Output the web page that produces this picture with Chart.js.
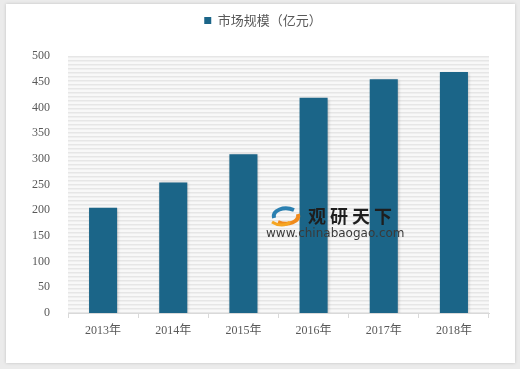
<!DOCTYPE html>
<html>
<head>
<meta charset="utf-8">
<script src="https://cdn.jsdelivr.net/npm/chart.js@4"></script>
<style>
  html, body { margin: 0; padding: 0; background: #ebebeb; }
  #wrap { position: relative; width: 520px; height: 369px; }
  #card { position: absolute; left: 6px; top: 4px; width: 509px; height: 359px; background: #fff;
          box-shadow: 0 0 3px rgba(0,0,0,0.18); }
  #graficoBarras { position: absolute; left: 0; top: 0; }
  #marca { position: absolute; left: 266px; top: 204px; width: 145px; height: 36px; pointer-events: none; }
  #marca .nombre { position: absolute; left: 42px; top: 2px; font: bold 18px 'Noto Sans CJK SC', sans-serif;
                   color: #1e1e1e; letter-spacing: 4px; line-height: 18px; }
  #marca .web { position: absolute; left: 0; top: 23px; font: 12px 'DejaVu Sans', sans-serif; color: #3a3a3a;
                line-height: 13px; }
  #marca svg { position: absolute; left: 2px; top: 0; }
</style>
</head>
<body>
<div id="wrap">
  <div id="card"></div>
  <canvas id="graficoBarras" width="520" height="369"></canvas>
  <div id="marca">
    <svg width="36" height="24" viewBox="0 0 36 24">
      <path d="M6 14 C4 6, 16 2, 26 6" stroke="#2a7fb0" stroke-width="4" fill="none"/>
      <path d="M30 10 C32 18, 20 22, 10 18" stroke="#f08a1c" stroke-width="4" fill="none"/>
      <path d="M4 18 C10 22, 18 22, 22 18" stroke="#f5a623" stroke-width="3" fill="none"/>
    </svg>
    <div class="nombre">观研天下</div>
    <div class="web">www.chinabaogao.com</div>
  </div>
</div>
<script>
var anios = ['2013年', '2014年', '2015年', '2016年', '2017年', '2018年'];
var mercado = [205, 254, 309, 419, 455, 469];
var etiquetaSerie = '市场规模（亿元）';

var colorBarra = '#1b6588';
var colorTexto = '#595959';

// fondo rayado del area del grafico
const fondoRayado = {
  id: 'fondoRayado',
  beforeDraw(chart) {
    const a = chart.chartArea;
    const ctx = chart.ctx;
    ctx.save();
    ctx.fillStyle = '#f8f8f8';
    ctx.fillRect(a.left, a.top, a.right - a.left, a.bottom - a.top);
    ctx.fillStyle = '#e6e6e6';
    for (let y = a.top; y < a.bottom; y += 4) {
      ctx.fillRect(a.left, y, a.right - a.left, 1.5);
    }
    ctx.restore();
  }
};

// sombra suave de las barras
const sombraBarras = {
  id: 'sombraBarras',
  beforeDatasetsDraw(chart) {
    const ctx = chart.ctx;
    ctx.save();
    ctx.shadowColor = 'rgba(0,0,0,0.25)';
    ctx.shadowBlur = 3;
    ctx.shadowOffsetX = 1;
    ctx.shadowOffsetY = 1;
  },
  afterDatasetsDraw(chart) {
    chart.ctx.restore();
  }
};

// espacio extra debajo de la leyenda, y leyenda un poco a la derecha
const margenLeyenda = {
  id: 'margenLeyenda',
  beforeInit(chart) {
    const fitOriginal = chart.legend.fit;
    chart.legend.fit = function () {
      fitOriginal.bind(chart.legend)();
      this.height = 52;
    };
  },
  beforeDraw(chart) {
    chart.legend.left = chart.chartArea.left - 31;
  }
};

const chartData = {
  labels: anios,
  datasets: [
    {
      label: etiquetaSerie,
      data: mercado,
      backgroundColor: colorBarra,
      borderColor: colorBarra,
      borderWidth: 0,
      categoryPercentage: 1,
      barPercentage: 0.4
    }
  ]
};

const options = {
  responsive: false,
  animation: false,
  layout: {
    padding: { left: 27, right: 31, top: 4, bottom: 0 }
  },
  scales: {
    x: {
      grid: {
        display: true,
        drawOnChartArea: false,
        color: '#d9d9d9',
        tickLength: 5
      },
      border: { display: true, color: '#d9d9d9' },
      ticks: {
        color: colorTexto,
        padding: 6,
        font: { family: "'Liberation Serif', 'Noto Sans CJK SC', serif", size: 12 }
      },
      afterFit(scale) { scale.height = 56; }
    },
    y: {
      min: 0,
      max: 500,
      grid: { display: false },
      border: { display: false },
      ticks: {
        stepSize: 50,
        color: colorTexto,
        padding: 10,
        font: { family: "'Liberation Serif', serif", size: 12 }
      },
      afterFit(scale) { scale.width = 41; }
    }
  },
  plugins: {
    legend: {
      display: true,
      position: 'top',
      labels: {
        boxWidth: 7,
        boxHeight: 7,
        color: colorTexto,
        font: { family: "'Noto Sans CJK SC', sans-serif", size: 13 }
      }
    },
    tooltip: { enabled: false }
  }
};

new Chart(
  document.getElementById('graficoBarras'),
  {
    type: 'bar',
    data: chartData,
    options: options,
    plugins: [fondoRayado, sombraBarras, margenLeyenda]
  }
);
</script>
</body>
</html>
